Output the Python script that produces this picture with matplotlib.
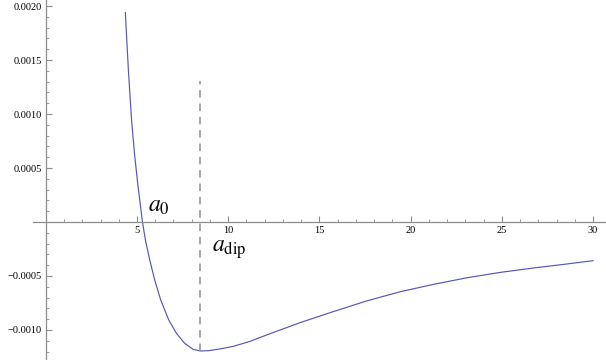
import matplotlib
matplotlib.use("Agg")
import matplotlib.pyplot as plt
from matplotlib.ticker import MultipleLocator, FixedLocator

# Data
x_vals = [4.36, 4.53, 4.70, 4.87, 5.05, 5.30, 5.46, 5.70, 5.97, 6.30, 6.74,
          7.16, 7.61, 8.07, 8.45, 8.90, 9.50, 10.27, 11.20, 12.11, 13.94,
          15.76, 17.59, 19.42, 21.24, 23.07, 24.90, 26.73, 28.56, 30.0]
y_vals = [0.00194, 0.00140, 0.00095, 0.00062, 0.00034, 0.0, -0.000167,
          -0.000352, -0.000537, -0.000722, -0.000907, -0.00103, -0.001123,
          -0.001179, -0.001194, -0.001192, -0.001177, -0.001152, -0.001105,
          -0.001046, -0.000932, -0.00083, -0.000731, -0.000646, -0.000578,
          -0.000517, -0.000467, -0.000426, -0.000389, -0.000358]

dip_x = 8.45
dip_top = 0.001305

x_ticks = [5, 10, 15, 20, 25, 30]
x_tick_labels = ["5", "10", "15", "20", "25", "30"]
x_minor = list(range(0, 31))
y_ticks = [-0.0010, -0.0005, 0.0005, 0.0010, 0.0015, 0.0020]
y_tick_labels = ["\u22120.0010", "\u22120.0005", "0.0005", "0.0010", "0.0015", "0.0020"]

plt.rcParams['mathtext.fontset'] = 'stix'

fig = plt.figure(figsize=(6.06, 3.6), dpi=100)
ax = fig.add_axes([0, 0, 1, 1])
ax.patch.set_alpha(0)

ax.plot(x_vals, y_vals, color='#5656b6', lw=0.85)
ax.plot([dip_x, dip_x], [min(y_vals), dip_top], color='#999999', lw=1.2,
        dashes=(4.5, 3.5))

ax.set_xlim(-2.51, 30.71)
ax.set_ylim(-0.001278, 0.002056)

for s in ['top', 'right']:
    ax.spines[s].set_visible(False)
ax.spines['left'].set_position(('data', 0))
ax.spines['bottom'].set_position(('data', 0))
ax.spines['bottom'].set_bounds(-0.7, 30.71)
axis_color = '#8c8c8c'
for s in ['left', 'bottom']:
    ax.spines[s].set_color(axis_color)
    ax.spines[s].set_linewidth(0.9)

ax.set_xticks(x_ticks)
ax.set_xticklabels(x_tick_labels)
ax.set_yticks(y_ticks)
ax.set_yticklabels(y_tick_labels)
ax.xaxis.set_minor_locator(FixedLocator(x_minor))
ax.yaxis.set_minor_locator(MultipleLocator(0.0001))

ax.tick_params(axis='both', which='major', direction='in', length=4.5,
               width=0.8, color=axis_color, labelsize=7.5, pad=3)
ax.tick_params(axis='both', which='minor', direction='in', length=2.5,
               width=0.6, color=axis_color)
for lab in ax.get_xticklabels() + ax.get_yticklabels():
    lab.set_family('Liberation Serif')

ax.text(5.6, 0.0000926, r'$a_0$', fontsize=17, ha='left', va='baseline')
ax.text(9.11, -0.000278, r'$a_{\mathrm{dip}}$', fontsize=17, ha='left',
        va='baseline')

fig.savefig('out.png', dpi=100)
